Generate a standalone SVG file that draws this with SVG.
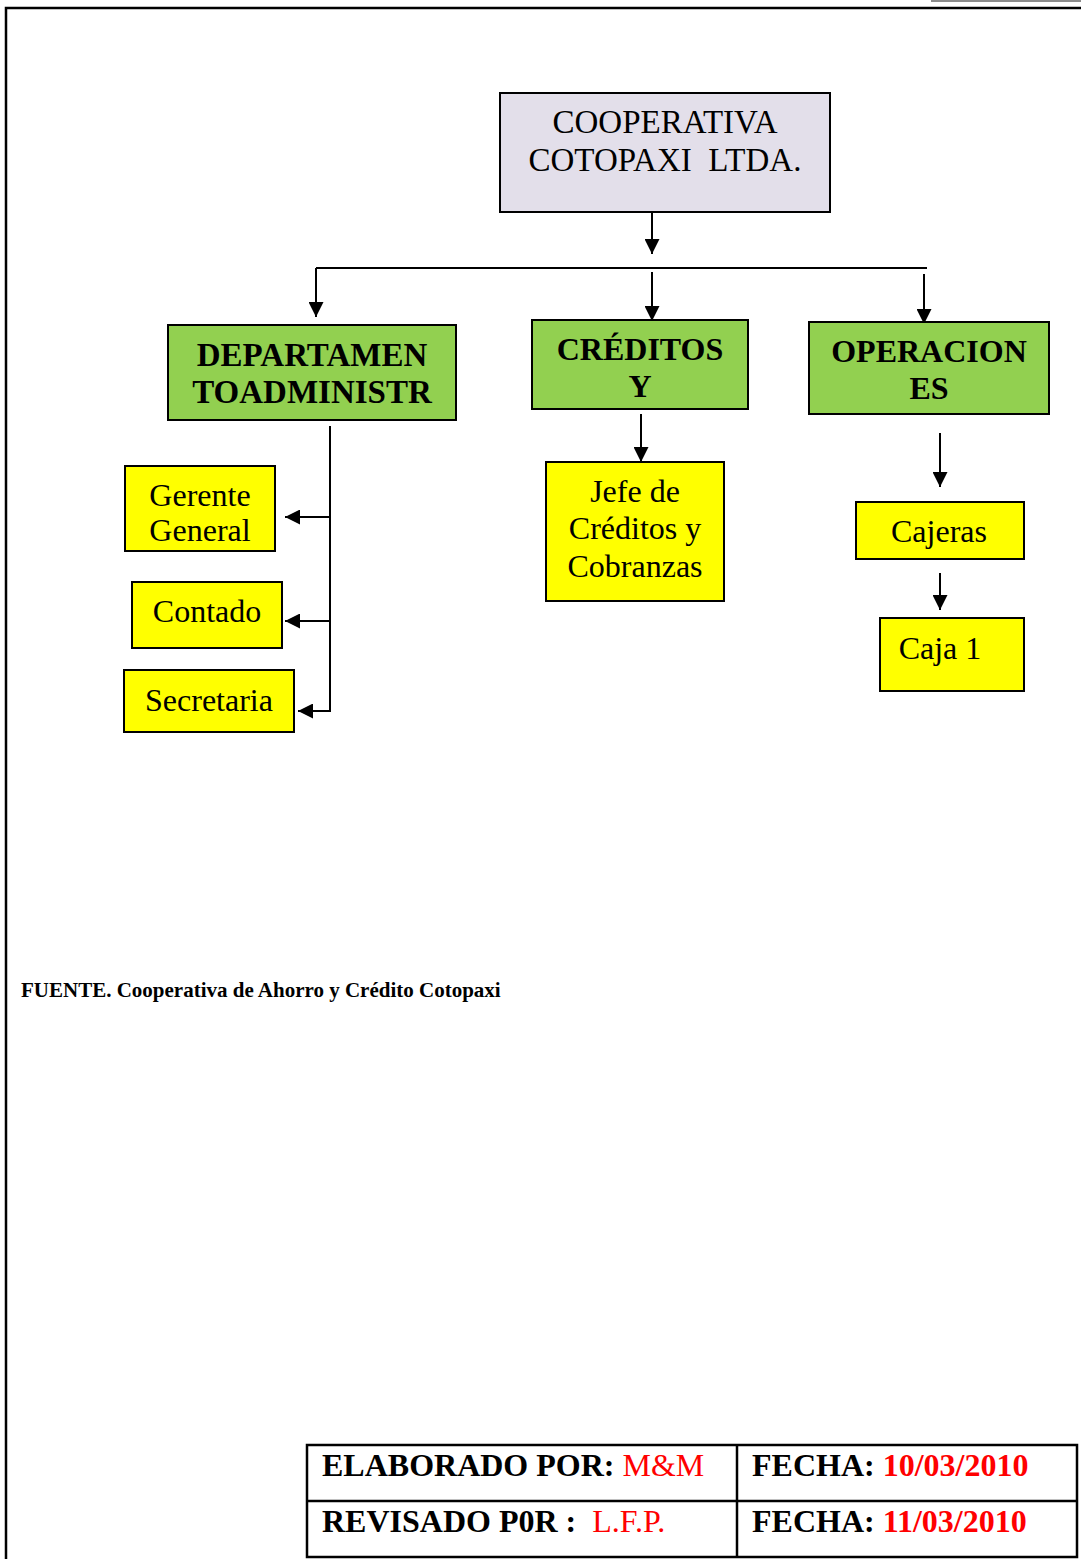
<svg xmlns="http://www.w3.org/2000/svg" width="1081" height="1559" viewBox="0 0 1081 1559">
<style>
.box{stroke:#000;stroke-width:2}
.root{fill:#E3DFEA}
.green{fill:#92D050}
.yellow{fill:#FFFF00}
.t{font-family:"Liberation Serif","Times New Roman",serif;fill:#000;text-anchor:middle}
.b{font-weight:bold}
.s{text-anchor:start}
.con{stroke:#000;stroke-width:2;fill:none}
.red{fill:#FF0000}
</style>
<defs>
<marker id="ah" viewBox="0 0 10 10" refX="10" refY="5" markerWidth="15" markerHeight="15" markerUnits="userSpaceOnUse" orient="auto">
<path d="M0,0 L10,5 L0,10 z" fill="#000"/>
</marker>
</defs>
<rect width="1081" height="1559" fill="#fff"/>
<g id="frame">
<path d="M6,1559 V8 H1081" stroke="#000" stroke-width="2.5" fill="none"/>
<line x1="931" y1="1" x2="1081" y2="1" stroke="#666" stroke-width="1.5"/>
</g>
<g id="connectors">
<line class="con" x1="652" y1="212" x2="652" y2="254" marker-end="url(#ah)"/>
<line class="con" x1="316" y1="268" x2="927" y2="268"/>
<line class="con" x1="316" y1="268" x2="316" y2="317" marker-end="url(#ah)"/>
<line class="con" x1="652" y1="272" x2="652" y2="321" marker-end="url(#ah)"/>
<line class="con" x1="924" y1="274" x2="924" y2="324" marker-end="url(#ah)"/>
<line class="con" x1="330" y1="426" x2="330" y2="712"/>
<line class="con" x1="330" y1="517" x2="285" y2="517" marker-end="url(#ah)"/>
<line class="con" x1="330" y1="621" x2="285" y2="621" marker-end="url(#ah)"/>
<line class="con" x1="330" y1="711" x2="298" y2="711" marker-end="url(#ah)"/>
<line class="con" x1="641" y1="414" x2="641" y2="462" marker-end="url(#ah)"/>
<line class="con" x1="940" y1="433" x2="940" y2="487" marker-end="url(#ah)"/>
<line class="con" x1="940" y1="573" x2="940" y2="610" marker-end="url(#ah)"/>
</g>
<g id="root">
<rect class="box root" x="500" y="93" width="330" height="119"/>
<text class="t" x="665" y="133" font-size="33">COOPERATIVA</text>
<text class="t" x="665" y="171" font-size="33" xml:space="preserve">COTOPAXI  LTDA.</text>
</g>
<g id="departamento">
<rect class="box green" x="168" y="325" width="288" height="95"/>
<text class="t b" x="312" y="366" font-size="33">DEPARTAMEN</text>
<text class="t b" x="312" y="403" font-size="33">TOADMINISTR</text>
</g>
<g id="creditos">
<rect class="box green" x="532" y="320" width="216" height="89"/>
<text class="t b" x="640" y="360" font-size="32">CRÉDITOS</text>
<text class="t b" x="640" y="397" font-size="32">Y</text>
</g>
<g id="operaciones">
<rect class="box green" x="809" y="322" width="240" height="92"/>
<text class="t b" x="929" y="362" font-size="32">OPERACION</text>
<text class="t b" x="929" y="399" font-size="32">ES</text>
</g>
<g id="gerente">
<rect class="box yellow" x="125" y="466" width="150" height="85"/>
<text class="t" x="200" y="506" font-size="32">Gerente</text>
<text class="t" x="200" y="541" font-size="32">General</text>
</g>
<g id="contado">
<rect class="box yellow" x="132" y="582" width="150" height="66"/>
<text class="t" x="207" y="622" font-size="32">Contado</text>
</g>
<g id="secretaria">
<rect class="box yellow" x="124" y="670" width="170" height="62"/>
<text class="t" x="209" y="711" font-size="32">Secretaria</text>
</g>
<g id="jefe">
<rect class="box yellow" x="546" y="462" width="178" height="139"/>
<text class="t" x="635" y="502" font-size="32">Jefe de</text>
<text class="t" x="635" y="539" font-size="32">Créditos y</text>
<text class="t" x="635" y="577" font-size="32">Cobranzas</text>
</g>
<g id="cajeras">
<rect class="box yellow" x="856" y="502" width="168" height="57"/>
<text class="t" x="939" y="542" font-size="32">Cajeras</text>
</g>
<g id="caja1">
<rect class="box yellow" x="880" y="618" width="144" height="73"/>
<text class="t" x="940" y="659" font-size="32">Caja 1</text>
</g>
<g id="fuente">
<text class="t b s" x="21" y="997" font-size="21">FUENTE. Cooperativa de Ahorro y Crédito Cotopaxi</text>
</g>
<g id="tabla">
<rect x="307" y="1445" width="770" height="112" fill="none" stroke="#000" stroke-width="2.5"/>
<line x1="307" y1="1501" x2="1077" y2="1501" stroke="#000" stroke-width="2.5"/>
<line x1="737" y1="1445" x2="737" y2="1557" stroke="#000" stroke-width="2.5"/>
<text class="t b s" x="322" y="1476" font-size="32">ELABORADO POR: <tspan class="red" font-weight="normal">M&amp;M</tspan></text>
<text class="t b s" x="752" y="1476" font-size="32">FECHA: <tspan class="red">10/03/2010</tspan></text>
<text class="t b s" x="322" y="1532" font-size="32" xml:space="preserve">REVISADO P0R :  <tspan class="red" font-weight="normal">L.F.P.</tspan></text>
<text class="t b s" x="752" y="1532" font-size="32">FECHA: <tspan class="red">11/03/2010</tspan></text>
</g>
</svg>
